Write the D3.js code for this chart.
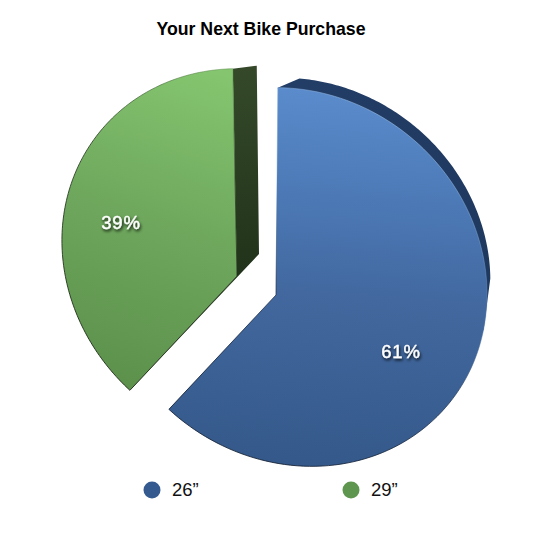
<!DOCTYPE html>
<html><head><meta charset="utf-8">
<script src="https://cdn.jsdelivr.net/npm/d3@7"></script>
<style>html,body{margin:0;padding:0;background:#fff}svg{display:block}</style>
</head><body><svg id="c" width="537" height="534"></svg>
<script>
const categories = ["26”", "29”"];
const shares = [61, 39];
const shareLabels = ["61%", "39%"];
const title = "Your Next Bike Purchase";

// layout of the tilted, exploded disc
const deg = Math.PI / 180;
const disc = {cx: 294, cy: 277, a: 200, b: 182, rot: 39 * deg};
const rear = {cx: 303, cy: 261, a: 195, b: 175, rot: 39 * deg};
const blast = [[0, 0], [-39, -19]];
const hub = [276, 295];
const labelAt = [[401, 358], [121, 229]];
const legendAt = [[152, 172], [351, 371]];

const svg = d3.select("#c");
const defs = svg.append("defs");
function grad(id, x1, y1, x2, y2, stops) {
  const g = defs.append("linearGradient").attr("id", id).attr("gradientUnits", "userSpaceOnUse")
    .attr("x1", x1).attr("y1", y1).attr("x2", x2).attr("y2", y2);
  stops.forEach(s => g.append("stop").attr("offset", s[0]).attr("stop-color", s[1]).attr("stop-opacity", s[2] ?? 1));
}
grad("faceB", 340, 80, 310, 470, [[0, "#5c8dce"], [.3, "#4c79b6"], [.55, "#42689f"], [1, "#345889"]]);
grad("faceG", 225, 75, 110, 395, [[0, "#85c56f"], [.5, "#6da65c"], [1, "#5b8f4a"]]);
grad("wallB", 300, 80, 480, 280, [[0, "#223d66"], [1, "#1f385e"]]);
grad("wallG", 245, 64, 245, 275, [[0, "#35492a"], [1, "#21331a"]]);
grad("edgeB", 430, 130, 230, 420, [[0, "#9fc3ea", .7], [.35, "#5d88bf", .4], [.6, "#1a2c49", .8], [1, "#121f33", .95]]);
grad("edgeG", 230, 70, 100, 360, [[0, "#5f9350", .6], [.35, "#27391f", .9], [1, "#1a2814", 1]]);
const f = defs.append("filter").attr("id", "ts").attr("x", "-30%").attr("y", "-30%").attr("width", "170%").attr("height", "190%");
f.append("feDropShadow").attr("dx", 1).attr("dy", 2).attr("stdDeviation", 1.6).attr("flood-color", "#000").attr("flood-opacity", .85);

const pie = d3.pie().sort(null).value(d => d)(shares);
const tau = 2 * Math.PI;
const split = pie[0].endAngle;
const tOf = d3.scaleLinear().domain([0, split, tau]).range([-131.2 * deg, 94 * deg, 227 * deg]);
const onEllipse = (e, t, off) => {
  const u = e.a * Math.cos(t), v = e.b * Math.sin(t);
  return [e.cx + u * Math.cos(e.rot) - v * Math.sin(e.rot) + off[0],
          e.cy + u * Math.sin(e.rot) + v * Math.cos(e.rot) + off[1]];
};
const line = d3.line();
const sweep = (e, a0, a1, off) => d3.range(0, 121).map(i => onEllipse(e, tOf(a0 + (a1 - a0) * i / 120), off));
const plus = (p, q) => [p[0] + q[0], p[1] + q[1]];

// blue rim
const blueRimEnd = split * .42;
const blueBack = plus(hub, [23, -22]);
svg.append("path").attr("fill", "url(#wallB)")
  .attr("d", line([blueBack, onEllipse(disc, tOf(0), [0, 0]), ...sweep(rear, 4 * deg, blueRimEnd, [0, 0]), onEllipse(disc, tOf(split * .47), [0, 0]), hub]) + "Z");

// green wall
const gOff = blast[1];
const gHub = plus(hub, gOff);
const gLow = onEllipse(disc, tOf(split), gOff), gTop = onEllipse(disc, tOf(tau), gOff);
svg.append("path").attr("fill", "url(#wallG)")
  .attr("d", line([plus(gHub, [22, -22]), plus(gLow, [4, -4]), gLow, gHub, gTop, plus(gTop, [24, -3])]) + "Z");

// faces
svg.selectAll("path.face").data(pie).join("path").attr("class", "face")
  .attr("fill", (d, i) => i ? "url(#faceG)" : "url(#faceB)")
  .attr("stroke", (d, i) => i ? "url(#edgeG)" : "url(#edgeB)")
  .attr("stroke-width", .9).attr("stroke-linejoin", "round")
  .attr("d", (d, i) => line([plus(hub, blast[i]), ...sweep(disc, d.startAngle, d.endAngle, blast[i])]) + "Z");

// labels
svg.selectAll("text.pct").data(shareLabels).join("text").attr("class", "pct")
  .attr("x", (d, i) => labelAt[i][0]).attr("y", (d, i) => labelAt[i][1])
  .attr("text-anchor", "middle").attr("font-family", "Liberation Sans").attr("font-size", 18.5)
  .attr("letter-spacing", .8).attr("font-weight", 400).attr("fill", "#fff").attr("stroke", "#fff").attr("stroke-width", .35)
  .attr("filter", "url(#ts)").text(d => d);

svg.append("text").attr("x", 261).attr("y", 35).attr("text-anchor", "middle")
  .attr("font-family", "Liberation Sans").attr("font-weight", 700).attr("font-size", 17.7).attr("fill", "#000").text(title);

// legend
const legendColors = ["#355a90", "#5f964f"];
categories.forEach((c, i) => {
  svg.append("circle").attr("cx", legendAt[i][0]).attr("cy", 490).attr("r", 8.5).attr("fill", legendColors[i]);
  svg.append("text").attr("x", legendAt[i][1]).attr("y", 496).attr("font-family", "Liberation Sans")
    .attr("font-size", 18.5).attr("fill", "#111").text(c);
});
</script></body></html>
